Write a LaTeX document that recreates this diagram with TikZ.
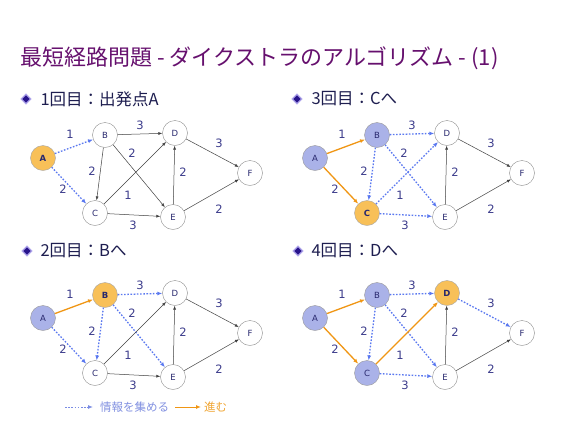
\documentclass[tikz,border=0pt]{standalone}
\usepackage{fontspec}
\usepackage{xcolor}
\usetikzlibrary{arrows.meta,shapes.geometric}
\newfontfamily\jp{Noto Sans CJK JP}
\setsansfont{DejaVu Sans}

\definecolor{titlepurple}{RGB}{102,16,110}
\definecolor{headnavy}{RGB}{30,30,80}
\definecolor{bulletnavy}{RGB}{40,20,140}
\definecolor{bulletedge}{RGB}{175,165,235}
\definecolor{visitblue}{RGB}{170,178,232}
\definecolor{curorange}{RGB}{248,192,88}
\definecolor{infoblue}{RGB}{90,120,240}
\definecolor{goorange}{RGB}{240,150,20}
\definecolor{wtblue}{RGB}{60,60,140}
\definecolor{nodetext}{RGB}{40,40,110}
\definecolor{legendblue}{RGB}{130,145,225}
\definecolor{legendorange}{RGB}{240,165,50}

\tikzset{
  vtx/.style={circle, draw=black!45, fill=white, minimum size=25pt, inner sep=0pt,
    font=\sffamily\fontsize{8.5}{8.5}\selectfont, text=nodetext},
  done/.style={fill=visitblue, draw=black!40},
  cur/.style={fill=curorange, draw=black!35, font=\sffamily\bfseries\fontsize{8.5}{8.5}\selectfont},
  plain/.style={-{Latex[length=4pt,width=3pt]}, draw=black!75, line width=0.5pt},
  info/.style={-{Latex[length=5pt,width=4pt]}, draw=infoblue, line width=1.3pt, dash pattern=on 1.6pt off 1.6pt},
  go/.style={-{Latex[length=5pt,width=4pt]}, draw=goorange, line width=1.3pt},
  wt/.style={font=\sffamily\fontsize{11.5}{11.5}\selectfont, text=wtblue},
  head/.style={anchor=west, font=\jp\fontsize{16.5}{16.5}\selectfont, text=headnavy},
  bullet/.style={diamond, fill=bulletnavy, draw=bulletedge, line width=1.2pt, minimum size=10pt, inner sep=0pt},
  % default looks of vertices and edges
  nA/.style={}, nB/.style={}, nC/.style={}, nD/.style={}, nE/.style={}, nF/.style={},
  eAB/.style={plain}, eAC/.style={plain}, eBD/.style={plain}, eBC/.style={plain},
  eBE/.style={plain}, eCD/.style={plain}, eCE/.style={plain}, eED/.style={plain},
  eDF/.style={plain}, eEF/.style={plain},
}

% one graph, names prefixed by #1
\newcommand{\dijkgraph}[1]{%
  \node[vtx, nA] (#1A) at (43,158) {A};
  \node[vtx, nB] (#1B) at (105,135) {B};
  \node[vtx, nC] (#1C) at (95,213) {C};
  \node[vtx, nD] (#1D) at (175,133) {D};
  \node[vtx, nE] (#1E) at (173,217) {E};
  \node[vtx, nF] (#1F) at (250,173) {F};

  \path
  (#1A) edge[eAB] (#1B)
  (#1A) edge[eAC] (#1C)
  (#1B) edge[eBD] (#1D)
  (#1B) edge[eBC] (#1C)
  (#1B) edge[eBE] (#1E)
  (#1C) edge[eCD] (#1D)
  (#1C) edge[eCE] (#1E)
  (#1E) edge[eED] (#1D)
  (#1D) edge[eDF] (#1F)
  (#1E) edge[eEF] (#1F)
  ;

  \node[wt] (#1wAB) at (70,134) {1};
  \node[wt] (#1wAC) at (63,189) {2};
  \node[wt] (#1wBD) at (140,125) {3};
  \node[wt] (#1wBC) at (92,171) {2};
  \node[wt] (#1wBE) at (132,153) {2};
  \node[wt] (#1wCD) at (128,195) {1};
  \node[wt] (#1wCE) at (133,225) {3};
  \node[wt] (#1wED) at (183,172) {2};
  \node[wt] (#1wDF) at (219,143) {3};
  \node[wt] (#1wEF) at (219,209) {2};
}

\begin{document}
\begin{tikzpicture}[x=1pt, y=-1pt]
\useasboundingbox[fill=white] (0,0) rectangle (566,424);

\node[anchor=west, font=\jp\fontsize{22}{22}\selectfont, text=titlepurple, inner sep=0pt]
  (title) at (20,58) {最短経路問題 - ダイクストラのアルゴリズム - (1)};

% headings
\node[bullet] (b1) at (26,99) {};
\node[head] (h1) at (37,99) {1回目：出発点A};
\node[bullet] (b2) at (297,99) {};
\node[head] (h2) at (308,99) {3回目：Cへ};
\node[bullet] (b3) at (27,251) {};
\node[head] (h3) at (37,251) {2回目：Bへ};
\node[bullet] (b4) at (298,251) {};
\node[head] (h4) at (308,251) {4回目：Dへ};

% 1st step
\begin{scope}[nA/.style={cur}, eAB/.style={info}, eAC/.style={info}]
\dijkgraph{p}
\end{scope}

% 3rd step
\begin{scope}[shift={(272,0)}, nA/.style={done}, nB/.style={done}, nC/.style={cur},
  eAB/.style={go}, eAC/.style={go}, eBD/.style={info}, eBC/.style={info},
  eBE/.style={info}, eCD/.style={info}, eCE/.style={info}]
\dijkgraph{q}
\end{scope}

% 2nd step
\begin{scope}[shift={(0,160)}, nA/.style={done}, nB/.style={cur},
  eAB/.style={go}, eAC/.style={info}, eBD/.style={info}, eBC/.style={info},
  eBE/.style={info}]
\dijkgraph{r}
\end{scope}

% 4th step
\begin{scope}[shift={(272,160)}, nA/.style={done}, nB/.style={done}, nC/.style={done},
  nD/.style={cur}, eAB/.style={go}, eAC/.style={go}, eCD/.style={go},
  eBD/.style={info}, eBC/.style={info}, eBE/.style={info}, eCE/.style={info},
  eDF/.style={info}]
\dijkgraph{s}
\end{scope}

% legend
\coordinate (l1) at (65,407);
\coordinate (l2) at (93,407);
\coordinate (l3) at (175,407);
\coordinate (l4) at (201,407);
\draw[info, line width=1pt, draw=legendblue!80!infoblue] (l1) -- (l2);
\node[anchor=west, font=\jp\fontsize{11.5}{11.5}\selectfont, text=legendblue, inner sep=0pt]
  (t1) at (100,407) {情報を集める};
\draw[go, line width=1pt] (l3) -- (l4);
\node[anchor=west, font=\jp\fontsize{11.5}{11.5}\selectfont, text=legendorange, inner sep=0pt]
  (t2) at (204,407) {進む};
\end{tikzpicture}
\end{document}
